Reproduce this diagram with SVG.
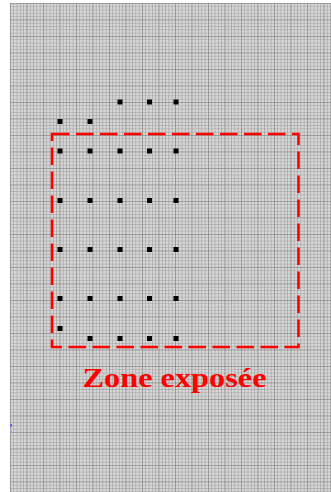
<svg xmlns="http://www.w3.org/2000/svg" width="331" height="492" viewBox="0 0 331 492">
  <defs>
    <pattern id="minor" x="10" y="3" width="3.3" height="3.3" patternUnits="userSpaceOnUse">
      <rect width="3.3" height="3.3" fill="#d6d6d6"/>
      <path d="M0 0H3.3M0 0V3.3" stroke="#959595" stroke-width="1" fill="none"/>
    </pattern>
    <pattern id="major" x="10" y="3" width="16.5" height="16.5" patternUnits="userSpaceOnUse">
      <path d="M0 0H16.5M0 0V16.5" stroke="#7a7a7a" stroke-width="0.8" fill="none"/>
    </pattern>
  </defs>
  <style>
    .dot { fill: #000; }
    .zone { fill: none; stroke: #ff0000; stroke-width: 2.6; stroke-dasharray: 17.5 6.5; }
    .label { font-family: "Liberation Serif", "DejaVu Serif", serif; font-weight: bold; fill: #ff0000; }
  </style>
  <rect x="0" y="0" width="331" height="492" fill="#ffffff"/>
  <g id="grid">
    <rect x="10" y="3" width="321" height="489" fill="url(#minor)"/>
    <rect x="10" y="3" width="321" height="489" fill="url(#major)"/>
  </g>
  <g id="artifact">
    <rect x="10" y="424" width="2" height="3" fill="#6a6ae0"/>
    <rect x="10" y="431" width="2" height="2" fill="#9a9ae8"/>
  </g>
  <g id="dots">
    <rect class="dot" x="117.5" y="99.5" width="5" height="5"/>
    <rect class="dot" x="147" y="99.5" width="5" height="5"/>
    <rect class="dot" x="173.5" y="99.5" width="5" height="5"/>
    <rect class="dot" x="57.5" y="119" width="5" height="5"/>
    <rect class="dot" x="87.5" y="119" width="5" height="5"/>

    <rect class="dot" x="57.5" y="148.5" width="5" height="5"/>
    <rect class="dot" x="87.5" y="148.5" width="5" height="5"/>
    <rect class="dot" x="117.5" y="148.5" width="5" height="5"/>
    <rect class="dot" x="147" y="148.5" width="5" height="5"/>
    <rect class="dot" x="173.5" y="148.5" width="5" height="5"/>

    <rect class="dot" x="57.5" y="198" width="5" height="5"/>
    <rect class="dot" x="87.5" y="198" width="5" height="5"/>
    <rect class="dot" x="117.5" y="198" width="5" height="5"/>
    <rect class="dot" x="147" y="198" width="5" height="5"/>
    <rect class="dot" x="173.5" y="198" width="5" height="5"/>

    <rect class="dot" x="57.5" y="247" width="5" height="5"/>
    <rect class="dot" x="87.5" y="247" width="5" height="5"/>
    <rect class="dot" x="117.5" y="247" width="5" height="5"/>
    <rect class="dot" x="147" y="247" width="5" height="5"/>
    <rect class="dot" x="173.5" y="247" width="5" height="5"/>

    <rect class="dot" x="57.5" y="296" width="5" height="5"/>
    <rect class="dot" x="87.5" y="296" width="5" height="5"/>
    <rect class="dot" x="117.5" y="296" width="5" height="5"/>
    <rect class="dot" x="147" y="296" width="5" height="5"/>
    <rect class="dot" x="173.5" y="296" width="5" height="5"/>

    <rect class="dot" x="57.5" y="326" width="5" height="5"/>
    <rect class="dot" x="87.5" y="336" width="5" height="5"/>
    <rect class="dot" x="117.5" y="336" width="5" height="5"/>
    <rect class="dot" x="147" y="336" width="5" height="5"/>
    <rect class="dot" x="173.5" y="336" width="5" height="5"/>
  </g>
  <g id="zone">
    <rect class="zone" x="52" y="134" width="246.5" height="213"/>
    <text class="label" x="82.5" y="386.5" font-size="27" textLength="184" lengthAdjust="spacingAndGlyphs">Zone exposée</text>
  </g>
</svg>
